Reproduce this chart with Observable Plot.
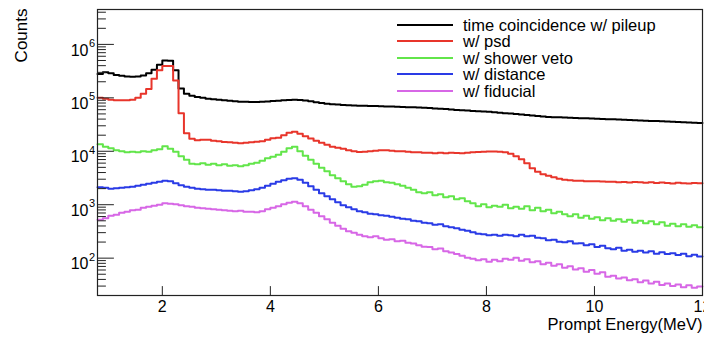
<!DOCTYPE html>
<html>
<head>
<meta charset="utf-8">
<script src="https://cdn.jsdelivr.net/npm/d3@7"></script>
<script src="https://cdn.jsdelivr.net/npm/@observablehq/plot@0.6"></script>
<style>
  html, body { margin: 0; padding: 0; background: #fff; overflow: hidden; }
  #wrap { position: relative; width: 704px; height: 338px; font-family: "Liberation Sans", Arial, Helvetica, sans-serif; }
  #legend { position: absolute; left: 397px; top: 16.5px; }
  #legend .row { display: flex; align-items: center; height: 16.5px; }
  #legend .sw { width: 56px; height: 2px; }
  #legend .lb { margin-left: 10px; font-size: 16.5px; color: #000; line-height: 16.5px; white-space: nowrap; }
</style>
</head>
<body>
<div id="wrap"></div>
<script>
// ---- data (counts per 0.1 MeV bin, bins start at 0.8 MeV) ----
const binLow = 0.8;
const binWidth = 0.1;
const seriesNames = ["time coincidence w/ pileup", "w/ psd", "w/ shower veto", "w/ distance", "w/ fiducial"];
const seriesColors = ["#000000", "#e8352b", "#62e54a", "#2a3be6", "#d767e6"];

const timeCoinc = [
  2.8e5, 3.0e5, 2.87e5, 2.69e5, 2.58e5, 2.52e5, 2.47e5, 2.52e5, 2.63e5, 2.87e5,
  3.34e5, 4.14e5, 5.02e5, 4.92e5, 3.27e5, 1.5e5, 1.19e5, 1.09e5, 1.04e5, 1.0e5,
  9.58e4, 9.38e4, 9.18e4, 8.98e4, 8.79e4, 8.6e4, 8.49e4, 8.42e4, 8.35e4, 8.35e4,
  8.42e4, 8.55e4, 8.7e4, 8.85e4, 9.0e4, 9.12e4, 9.2e4, 9.12e4, 8.9e4, 8.6e4,
  8.24e4, 7.99e4, 7.79e4, 7.62e4, 7.5e4, 7.37e4, 7.24e4, 7.2e4, 7.15e4, 7.1e4,
  7.05e4, 7.0e4, 6.95e4, 6.9e4, 6.85e4, 6.8e4, 6.75e4, 6.7e4, 6.65e4, 6.6e4,
  6.55e4, 6.45e4, 6.35e4, 6.25e4, 6.15e4, 6.05e4, 5.95e4, 5.85e4, 5.78e4, 5.7e4,
  5.62e4, 5.55e4, 5.48e4, 5.37e4, 5.27e4, 5.17e4, 5.07e4, 4.97e4, 4.87e4, 4.77e4,
  4.67e4, 4.57e4, 4.47e4, 4.38e4, 4.34e4, 4.31e4, 4.27e4, 4.24e4, 4.2e4, 4.17e4,
  4.13e4, 4.1e4, 4.06e4, 4.03e4, 3.99e4, 3.96e4, 3.92e4, 3.88e4, 3.85e4, 3.81e4,
  3.78e4, 3.74e4, 3.7e4, 3.67e4, 3.63e4, 3.6e4, 3.56e4, 3.52e4, 3.49e4, 3.45e4,
  3.42e4, 3.38e4
];
const psd = [
  1.0e5, 9.58e4, 9.24e4, 9.05e4, 8.98e4, 8.98e4, 9.18e4, 1.0e5, 1.19e5, 1.47e5,
  2.27e5, 3.27e5, 3.96e5, 3.96e5, 2.12e5, 5.13e4, 2.17e4, 1.71e4, 1.61e4, 1.64e4,
  1.64e4, 1.57e4, 1.54e4, 1.49e4, 1.47e4, 1.44e4, 1.41e4, 1.44e4, 1.47e4, 1.51e4,
  1.54e4, 1.64e4, 1.75e4, 1.79e4, 1.99e4, 2.22e4, 2.31e4, 2.12e4, 1.91e4, 1.73e4,
  1.57e4, 1.44e4, 1.32e4, 1.22e4, 1.16e4, 1.11e4, 1.04e4, 1.0e4, 9.7e3, 9.78e3,
  1.0e4, 1.02e4, 1.04e4, 1.04e4, 1.02e4, 1.0e4, 1.0e4, 9.78e3, 9.58e3, 9.58e3,
  9.38e3, 9.38e3, 9.18e3, 9.38e3, 9.18e3, 9.38e3, 9.3e3, 9.18e3, 9.38e3, 9.58e3,
  9.7e3, 9.78e3, 9.87e3, 9.87e3, 9.78e3, 9.58e3, 8.98e3, 8.06e3, 7.09e3, 5.97e3,
  4.81e3, 4.14e3, 3.72e3, 3.48e3, 3.27e3, 3.06e3, 2.93e3, 2.87e3, 2.81e3, 2.81e3,
  2.75e3, 2.75e3, 2.75e3, 2.72e3, 2.68e3, 2.7e3, 2.64e3, 2.66e3, 2.6e3, 2.65e3,
  2.62e3, 2.58e3, 2.63e3, 2.56e3, 2.6e3, 2.55e3, 2.5e3, 2.57e3, 2.53e3, 2.5e3,
  2.55e3, 2.52e3
];
const showerVeto = [
  1.35e4, 1.21e4, 1.14e4, 1.04e4, 1.0e4, 9.58e3, 9.78e3, 9.58e3, 1.0e4, 9.78e3,
  1.04e4, 1.09e4, 1.24e4, 1.11e4, 9.78e3, 8.06e3, 6.94e3, 5.84e3, 5.71e3, 5.97e3,
  5.59e3, 5.84e3, 5.47e3, 5.71e3, 5.36e3, 5.47e3, 5.24e3, 5.47e3, 5.84e3, 6.1e3,
  6.64e3, 7.4e3, 7.89e3, 8.6e3, 9.78e3, 1.14e4, 1.21e4, 1.0e4, 8.24e3, 6.94e3,
  5.84e3, 4.92e3, 4.23e3, 3.56e3, 3.13e3, 2.75e3, 2.42e3, 2.17e3, 2.22e3, 2.36e3,
  2.63e3, 2.75e3, 2.81e3, 2.63e3, 2.57e3, 2.42e3, 2.27e3, 2.08e3, 1.91e3, 1.71e3,
  1.64e3, 1.71e3, 1.51e3, 1.57e3, 1.38e3, 1.44e3, 1.27e3, 1.32e3, 1.16e3, 1.07e3,
  938, 1020, 898, 958, 918, 1000, 860, 918, 842, 938,
  789, 879, 756, 806, 694, 740, 664, 610, 664, 571,
  623, 547, 584, 513, 559, 502, 536, 481, 524, 461,
  502, 451, 492, 432, 471, 405, 441, 396, 432, 388,
  414, 380
];
const distance = [
  2.12e3, 2.08e3, 1.99e3, 2.03e3, 2.08e3, 2.12e3, 2.17e3, 2.27e3, 2.36e3, 2.47e3,
  2.57e3, 2.69e3, 2.81e3, 2.75e3, 2.52e3, 2.31e3, 2.17e3, 2.08e3, 1.99e3, 1.95e3,
  1.91e3, 1.91e3, 1.87e3, 1.83e3, 1.83e3, 1.79e3, 1.75e3, 1.79e3, 1.87e3, 1.95e3,
  2.08e3, 2.27e3, 2.47e3, 2.69e3, 2.87e3, 3.06e3, 3.13e3, 2.93e3, 2.57e3, 2.22e3,
  1.91e3, 1.64e3, 1.44e3, 1.27e3, 1.11e3, 979, 898, 824, 756, 724,
  679, 664, 636, 623, 597, 571, 547, 536, 502, 492,
  461, 451, 423, 432, 396, 380, 364, 341, 327, 306,
  287, 281, 269, 275, 263, 275, 269, 258, 275, 258,
  263, 242, 236, 217, 222, 203, 199, 208, 187, 191,
  175, 183, 161, 171, 154, 147, 157, 138, 144, 132,
  138, 127, 135, 121, 129, 119, 124, 114, 121, 109,
  116, 107
];
const fiducial = [
  524, 559, 623, 650, 709, 740, 789, 806, 879, 918,
  958, 1000, 1067, 1044, 1022, 979, 938, 918, 879, 860,
  842, 824, 806, 789, 772, 756, 772, 740, 740, 724,
  756, 824, 879, 938, 1022, 1090, 1138, 1067, 938, 806,
  709, 610, 536, 461, 405, 356, 320, 300, 275, 258,
  247, 258, 236, 222, 227, 208, 212, 195, 187, 175,
  164, 161, 147, 151, 135, 127, 119, 111, 102, 97.9,
  91.7, 95.8, 86.0, 93.8, 87.9, 97.9, 93.8, 102, 89.8, 95.8,
  84.2, 87.9, 77.2, 82.4, 72.4, 77.2, 66.4, 70.9, 61.0, 65,
  55.9, 59.7, 51.3, 54.7, 45, 47, 41.5, 43.5, 38.5, 40.5,
  35.5, 38, 33.5, 36, 31.5, 33.5, 30, 32, 28.5, 31,
  28, 29.5
];
const seriesValues = [timeCoinc, psd, showerVeto, distance, fiducial];

const xTicks = [2, 4, 6, 8, 10, 12];
const yMajor = [1e2, 1e3, 1e4, 1e5, 1e6];
const yDomain = [20, 4.5e6];
const xDomain = [0.8, 12];

// ---- build step data ----
const rows = [];
seriesValues.forEach((vals, s) => {
  vals.forEach((v, i) => rows.push({series: seriesNames[s], e: binLow + binWidth * i, v}));
  rows.push({series: seriesNames[s], e: binLow + binWidth * vals.length, v: vals[vals.length - 1]});
});

const yMinor = d3.range(1, 7).flatMap(k => d3.range(2, 10).map(m => m * 10 ** k))
  .filter(d => d > yDomain[0] && d < yDomain[1]);

const tickShape = {draw(ctx, l) { ctx.moveTo(0, 0); ctx.lineTo(0, -l); }};
const font = '"Liberation Sans", Arial, Helvetica, sans-serif';

const chart = Plot.plot({
  width: 704,
  height: 338,
  marginLeft: 97,
  marginRight: 2,
  marginTop: 9,
  marginBottom: 43,
  style: {fontFamily: font, fontSize: "16px", background: "white", color: "#000"},
  x: {domain: xDomain, axis: null},
  y: {type: "log", domain: yDomain, axis: null},
  color: {domain: seriesNames, range: seriesColors},
  marks: [
    Plot.line(rows, {x: "e", y: "v", z: "series", stroke: "series", strokeWidth: 2, curve: "step-after"}),
    Plot.frame({stroke: "#222", strokeWidth: 1.2}),
    // x ticks (inward)
    Plot.vector(xTicks, {x: d => d, frameAnchor: "bottom", length: 9, rotate: 0, anchor: "start", shape: tickShape, stroke: "#222", strokeWidth: 1}),
    // y ticks (inward)
    Plot.vector(yMajor, {y: d => d, frameAnchor: "left", length: 16, rotate: 90, anchor: "start", shape: tickShape, stroke: "#222", strokeWidth: 1}),
    Plot.vector(yMinor, {y: d => d, frameAnchor: "left", length: 8, rotate: 90, anchor: "start", shape: tickShape, stroke: "#222", strokeWidth: 1}),
    // x tick labels
    Plot.axisX(xTicks, {tickSize: 0, tickPadding: 5, fontSize: 16, tickFormat: d => String(d), label: null}),
    // y tick labels: 10^k
    Plot.text(yMajor, {y: d => d, frameAnchor: "left", text: () => "10", textAnchor: "end", lineAnchor: "middle", dx: -9, dy: 6, fontSize: 16, fill: "#000"}),
    Plot.text(yMajor, {y: d => d, frameAnchor: "left", text: d => String(Math.round(Math.log10(d))), textAnchor: "start", lineAnchor: "middle", dx: -8.5, dy: -1, fontSize: 11, fill: "#000"}),
    // axis titles
    Plot.text(["Prompt Energy(MeV)"], {frameAnchor: "bottom-right", text: d => d, textAnchor: "end", lineAnchor: "middle", dy: 29, fontSize: 16.5, fill: "#000"}),
    Plot.text(["Counts"], {frameAnchor: "top-left", text: d => d, rotate: -90, textAnchor: "end", lineAnchor: "middle", dx: -75.5, dy: -1, fontSize: 17, fill: "#000"})
  ]
});

const wrap = document.getElementById("wrap");
wrap.appendChild(chart);

// legend
const legend = document.createElement("div");
legend.id = "legend";
seriesNames.forEach((name, i) => {
  const row = document.createElement("div");
  row.className = "row";
  const sw = document.createElement("div");
  sw.className = "sw";
  sw.style.background = seriesColors[i];
  const lb = document.createElement("span");
  lb.className = "lb";
  lb.textContent = name;
  row.appendChild(sw);
  row.appendChild(lb);
  legend.appendChild(row);
});
wrap.appendChild(legend);
</script>
</body>
</html>
